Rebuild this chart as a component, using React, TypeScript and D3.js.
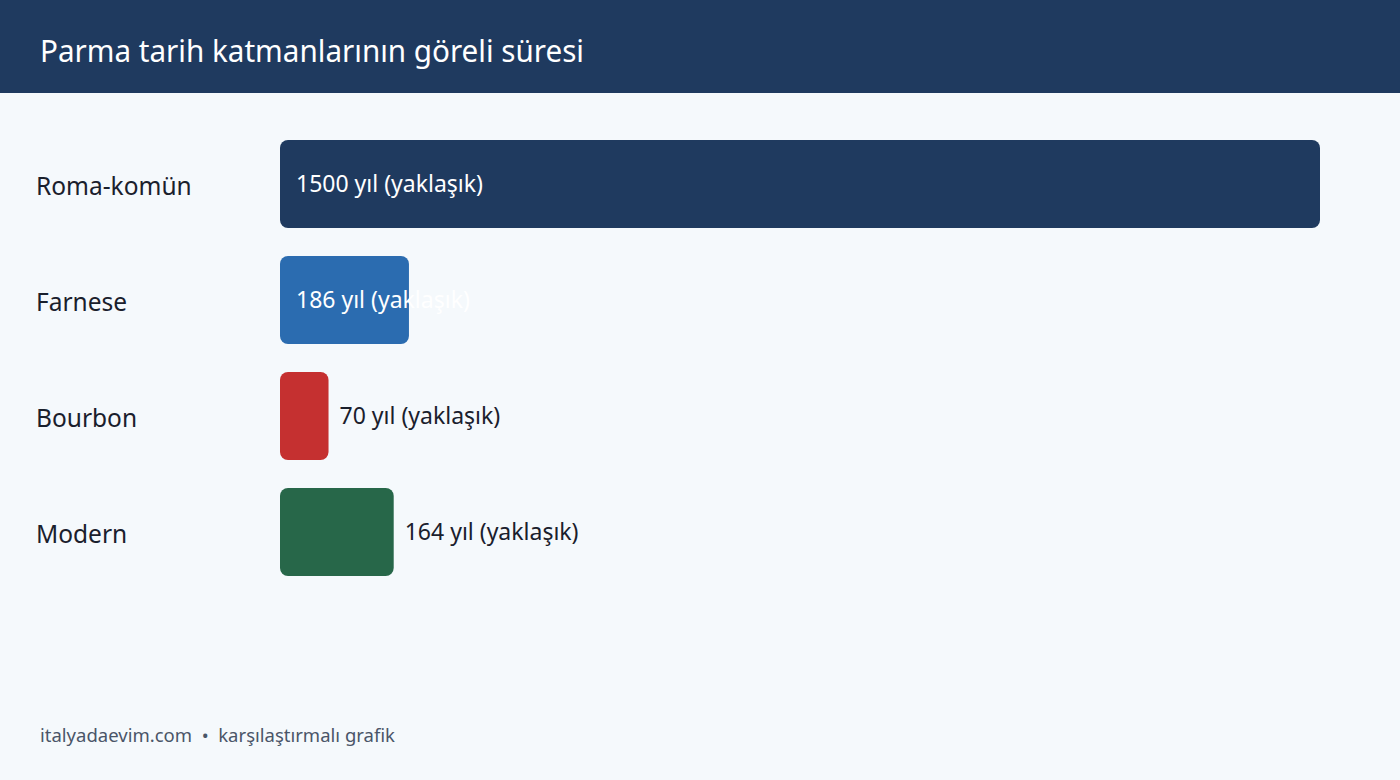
import { useEffect } from 'react';
import * as d3 from 'd3';

const categories = ['Roma-komün', 'Farnese', 'Bourbon', 'Modern'];
const years = [1500, 186, 70, 164];
const valueLabels = ['1500 yıl (yaklaşık)', '186 yıl (yaklaşık)', '70 yıl (yaklaşık)', '164 yıl (yaklaşık)'];
const colors = ['#1f3a5f', '#2b6cb0', '#c53030', '#276749'];

const title = 'Parma tarih katmanlarının göreli süresi';
const footer = 'italyadaevim.com  •  karşılaştırmalı grafik';

const FONT = '"Segoe UI", "Noto Sans", "Open Sans", sans-serif';

export default function App() {
  useEffect(() => {
    document.body.style.margin = '0';
  }, []);

  const width = 1400;
  const height = 780;
  const x = d3.scaleLinear().domain([0, 1500]).range([0, 1040]);
  const y = d3.scaleBand<string>().domain(categories).range([126, 590]).paddingInner(28 / 116).paddingOuter(14 / 116);
  const maxVal = d3.max(years) ?? 1;

  return (
    <svg width={width} height={height} style={{ display: 'block', fontFamily: FONT }}>
      <rect x={0} y={0} width={width} height={height} fill="#f5f9fc" />
      <rect x={0} y={0} width={width} height={93} fill="#1f3a5f" />
      <text x={40} y={62} fill="#ffffff" fontSize={30} textLength={544} lengthAdjust="spacingAndGlyphs">{title}</text>

      {categories.map((c, i) => {
        const y0 = y(c) ?? 0;
        const w = x(years[i]);
        const inside = years[i] / maxVal > 0.12;
        const cy = y0 + y.bandwidth() / 2;
        return (
          <g key={c}>
            <text x={36} y={cy + 2} dy="0.35em" fill="#1a202c" fontSize={24.5}>{c}</text>
            <rect x={280} y={y0} width={w} height={y.bandwidth()} rx={8} fill={colors[i]} />
            <text
              x={inside ? 296 : 280 + w + 11}
              y={cy}
              dy="0.35em"
              fill={inside ? '#ffffff' : '#1a202c'}
              fontSize={23}
            >
              {valueLabels[i]}
            </text>
          </g>
        );
      })}

      <text x={40} y={742} fill="#4a5568" fontSize={18.5} style={{ whiteSpace: 'pre' }}>{footer}</text>
    </svg>
  );
}
